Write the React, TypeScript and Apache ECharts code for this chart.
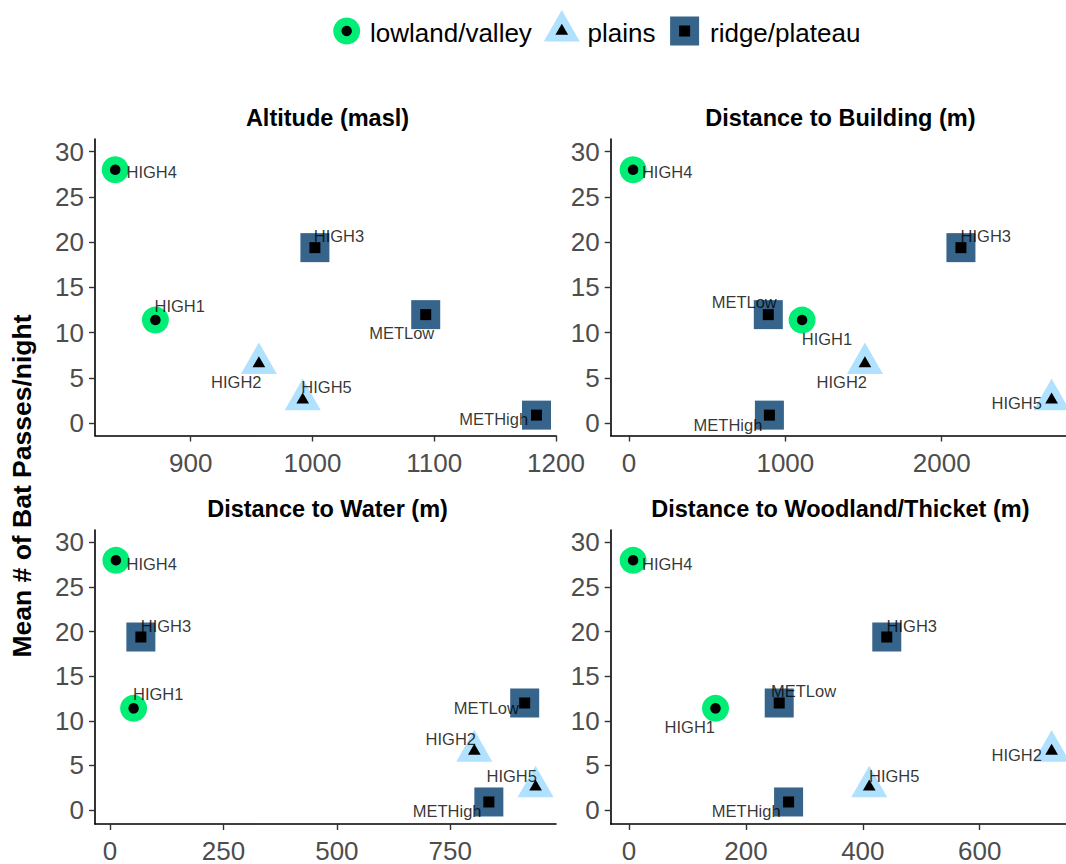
import React, { useEffect, useRef } from 'react';
import * as echarts from 'echarts';

// ---------- data ----------
const sites = ['HIGH1', 'HIGH2', 'HIGH3', 'HIGH4', 'HIGH5', 'METHigh', 'METLow'];
const habitat = ['lowland/valley', 'plains', 'ridge/plateau', 'lowland/valley', 'plains', 'ridge/plateau', 'ridge/plateau'];
const batPasses = [11.4, 6.6, 19.4, 28, 2.6, 0.9, 12];
const altitude = [871, 956, 1002, 838, 992, 1184, 1093];
const distBuilding = [1107, 1509, 2123, 26, 2703, 898, 891];
const distWater = [52, 803, 68, 13, 938, 835, 914];
const distWoodland = [148, 723, 441, 7, 411, 273, 257];

const habitats = ['lowland/valley', 'plains', 'ridge/plateau'];
const panelTitles = ['Altitude (masl)', 'Distance to Building (m)', 'Distance to Water (m)', 'Distance to Woodland/Thicket (m)'];
const yTicks = [0, 5, 10, 15, 20, 25, 30];
const altitudeTicks = [900, 1000, 1100, 1200];
const buildingTicks = [0, 1000, 2000];
const waterTicks = [0, 250, 500, 750];
const woodlandTicks = [0, 200, 400, 600];
const yTitle = 'Mean # of Bat Passes/night';

// ---------- layout / style ----------
const FONT = '"Liberation Sans", Arial, Helvetica, sans-serif';
const COLORS: Record<string, string> = {
  'lowland/valley': '#00EE76',
  plains: '#B0E2FF',
  'ridge/plateau': '#36648B',
};
const SHAPES: Record<string, any> = {
  'lowland/valley': { symbol: 'circle', outerSize: 27, innerSize: 10.5, outerOff: [0, 0], innerOff: [0, 0] },
  plains: { symbol: 'triangle', outerSize: [36, 31.7], innerSize: [12.7, 11], outerOff: [0, -5.3], innerOff: [0, -1.8] },
  'ridge/plateau': { symbol: 'rect', outerSize: 29, innerSize: 11, outerOff: [0, 0], innerOff: [0, 0] },
};

const cols = [
  { left: 95, width: 461 },
  { left: 610.7, width: 455.3 },
];
const rows = [
  { top: 139, height: 296.5, yMin: -1.35, yMax: 31.4 },
  { top: 530, height: 298.5, yMin: -1.57, yMax: 31.4 },
];

const panelX = [altitude, distBuilding, distWater, distWoodland];
const panelTicks = [altitudeTicks, buildingTicks, waterTicks, woodlandTicks];
const panelExtent = [
  [821.4, 1200],
  [-117, 2795],
  [-33.1, 983],
  [-31.3, 747.6],
];

// label offsets (px) per panel, in order of `sites`
const labelOffsets = [
  [[24.3, -13.8], [-22.6, 18.5], [24.1, -11.4], [36.5, 2.5], [23.8, -12.8], [-42.8, 3.5], [-24, 18.6]],
  [[24.9, 18.6], [-23.1, 18.5], [24.9, -11.4], [34.1, 2.5], [-34.9, 3.2], [-41.4, 9.6], [-24.1, -12.4]],
  [[24.6, -14.1], [-23.5, -12.2], [25.1, -11.4], [35.8, 3.2], [-23.9, -10.5], [-41.7, 8.6], [-38.4, 4.6]],
  [[-25.7, 18.2], [-34.9, 3.8], [25, -11.4], [34.1, 3.2], [25, -10.5], [-42.4, 9.3], [24.3, -12]],
];

function buildOption() {
  const grid: any[] = [];
  const xAxis: any[] = [];
  const yAxis: any[] = [];
  const series: any[] = [];
  const graphic: any[] = [];

  for (let p = 0; p < 4; p++) {
    const col = cols[p % 2];
    const row = rows[Math.floor(p / 2)];
    grid.push({ left: col.left, top: row.top, width: col.width, height: row.height, containLabel: false });
    xAxis.push({
      type: 'value',
      gridIndex: p,
      min: panelExtent[p][0],
      max: panelExtent[p][1],
      axisLine: { show: true, onZero: false, lineStyle: { color: '#000', width: 1.6 } },
      axisTick: { show: true, length: 6, customValues: panelTicks[p], lineStyle: { color: '#333', width: 1.4 } },
      axisLabel: {
        customValues: panelTicks[p],
        formatter: (v: number) => String(v),
        fontSize: 26,
        color: '#4D4D4D',
        fontFamily: FONT,
        margin: 14,
      },
      splitLine: { show: false },
    });
    yAxis.push({
      type: 'value',
      gridIndex: p,
      min: row.yMin,
      max: row.yMax,
      axisLine: { show: true, onZero: false, lineStyle: { color: '#000', width: 1.6 } },
      axisTick: { show: true, length: 6, customValues: yTicks, lineStyle: { color: '#333', width: 1.4 } },
      axisLabel: {
        customValues: yTicks,
        formatter: (v: number) => String(v),
        fontSize: 26,
        color: '#4D4D4D',
        fontFamily: FONT,
        margin: 11,
      },
      splitLine: { show: false },
    });

    const xs = panelX[p];
    const outer = sites.map((s, i) => {
      const h = habitat[i];
      const sh = SHAPES[h];
      return {
        name: s,
        value: [xs[i], batPasses[i]],
        symbol: sh.symbol,
        symbolSize: sh.outerSize,
        symbolOffset: sh.outerOff,
        itemStyle: { color: COLORS[h], opacity: 1 },
      };
    });
    const inner = sites.map((s, i) => {
      const h = habitat[i];
      const sh = SHAPES[h];
      return {
        name: s,
        value: [xs[i], batPasses[i]],
        symbol: sh.symbol,
        symbolSize: sh.innerSize,
        symbolOffset: sh.innerOff,
        itemStyle: { color: '#000', opacity: 1 },
      };
    });
    const labels = sites.map((s, i) => ({
      name: s,
      value: [xs[i], batPasses[i]],
      label: { offset: labelOffsets[p][i] },
    }));
    const common = {
      type: 'scatter',
      xAxisIndex: p,
      yAxisIndex: p,
      clip: false,
      silent: true,
      emphasis: { disabled: true },
    };
    series.push({ ...common, name: 'outer' + p, data: outer, z: 2, itemStyle: { opacity: 1 } });
    series.push({ ...common, name: 'inner' + p, data: inner, z: 3, itemStyle: { opacity: 1 } });
    series.push({
      ...common,
      name: 'labels' + p,
      data: labels,
      z: 4,
      symbol: 'circle',
      symbolSize: 1,
      itemStyle: { color: 'rgba(0,0,0,0)' },
      label: {
        show: true,
        position: 'inside',
        formatter: (d: any) => d.name,
        color: '#000',
        fontSize: 16.5,
        fontFamily: FONT,
      },
    });

    // panel title
    graphic.push({
      type: 'text',
      x: col.left + col.width / 2 + 2,
      y: row.top - 21,
      style: {
        text: panelTitles[p],
        fill: '#000',
        font: `bold 23.5px ${FONT}`,
        textAlign: 'center',
        textVerticalAlign: 'middle',
        align: 'center',
        verticalAlign: 'middle',
      },
    });
  }

  // y-axis title
  graphic.push({
    type: 'text',
    x: 22,
    y: 486,
    rotation: Math.PI / 2,
    style: {
      text: yTitle,
      fill: '#000',
      font: `bold 26.5px ${FONT}`,
      textAlign: 'center',
      textVerticalAlign: 'middle',
      align: 'center',
      verticalAlign: 'middle',
    },
  });

  // legend
  const cy = 31;
  const legendKeys = [346.7, 561.8, 684.6];
  const legendText = [370, 587.5, 710];
  habitats.forEach((h, k) => {
    const cx = legendKeys[k];
    if (h === 'lowland/valley') {
      graphic.push({ type: 'circle', shape: { cx, cy, r: 13.5 }, style: { fill: COLORS[h] } });
      graphic.push({ type: 'circle', shape: { cx, cy, r: 5.2 }, style: { fill: '#000' } });
    } else if (h === 'plains') {
      graphic.push({
        type: 'polygon',
        shape: { points: [[cx, cy - 21.1], [cx + 18, cy + 10.6], [cx - 18, cy + 10.6]] },
        style: { fill: COLORS[h] },
      });
      graphic.push({
        type: 'polygon',
        shape: { points: [[cx, cy - 7.3], [cx + 6.35, cy + 3.7], [cx - 6.35, cy + 3.7]] },
        style: { fill: '#000' },
      });
    } else {
      graphic.push({ type: 'rect', shape: { x: cx - 14.5, y: cy - 14.5, width: 29, height: 29 }, style: { fill: COLORS[h] } });
      graphic.push({ type: 'rect', shape: { x: cx - 5.5, y: cy - 5.5, width: 11, height: 11 }, style: { fill: '#000' } });
    }
    graphic.push({
      type: 'text',
      x: legendText[k],
      y: 33.3,
      style: {
        text: h,
        fill: '#000',
        font: `26px ${FONT}`,
        textAlign: 'left',
        textVerticalAlign: 'middle',
        align: 'left',
        verticalAlign: 'middle',
      },
    });
  });

  return {
    animation: false,
    backgroundColor: '#fff',
    grid,
    xAxis,
    yAxis,
    series,
    graphic,
  };
}

export default function App() {
  const ref = useRef<HTMLDivElement>(null);
  useEffect(() => {
    if (!ref.current) return;
    const chart = echarts.init(ref.current, null, { renderer: 'svg' });
    chart.setOption(buildOption() as any);
    return () => chart.dispose();
  }, []);
  return (
    <div
      ref={ref}
      style={{ position: 'fixed', left: 0, top: 0, width: 1066, height: 864, background: '#fff' }}
    />
  );
}
